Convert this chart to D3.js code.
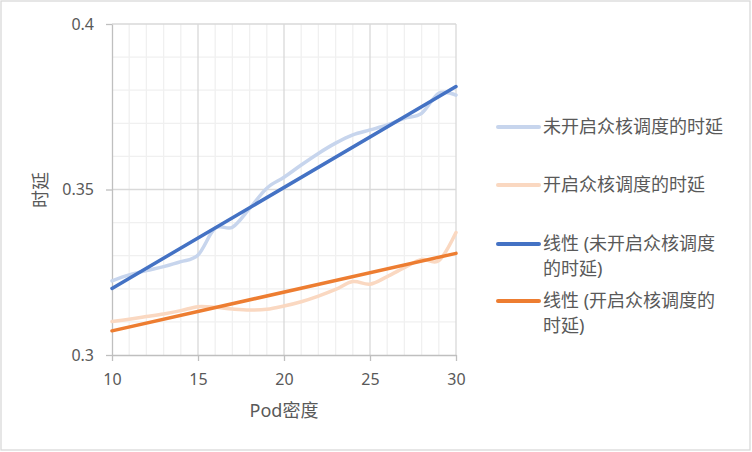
<!DOCTYPE html>
<html>
<head>
<meta charset="utf-8">
<script src="https://cdn.jsdelivr.net/npm/d3@7"></script>
<style>
  body { margin: 0; background: #fff; }
  text { font-family: "Noto Sans", "Noto Sans CJK SC", sans-serif; fill: #595959; }
</style>
</head>
<body>
<div class="chart"></div>
<script>
// x values (Pod density)
const podDensity = [10, 11, 12, 13, 14, 15, 16, 17, 18, 19, 20, 21, 22, 23, 24, 25, 26, 27, 28, 29, 30];
// latency without many-core scheduling
const latencyOff = [0.3224, 0.3242, 0.3255, 0.3267, 0.3282, 0.3302, 0.3383, 0.3386, 0.3443, 0.3504, 0.3537,
  0.3574, 0.3609, 0.3640, 0.3665, 0.3680, 0.3695, 0.3715, 0.3730, 0.3791, 0.3785];
// latency with many-core scheduling
const latencyOn = [0.3101, 0.3108, 0.3116, 0.3124, 0.3134, 0.3146, 0.3144, 0.3139, 0.3136, 0.3138, 0.3148,
  0.3161, 0.3178, 0.3198, 0.3222, 0.3214, 0.3237, 0.3264, 0.3289, 0.3285, 0.3370];
// linear trendlines, read at the ends
const trendX = [10, 30];
const trendOff = [0.3201, 0.3811];
const trendOn = [0.3073, 0.3307];

const xTicks = [10, 15, 20, 25, 30];
const yTicks = [0.3, 0.35, 0.4];
const seriesNames = ["未开启众核调度的时延", "开启众核调度的时延", "线性 (未开启众核调度的时延)", "线性 (开启众核调度的时延)"];

const svg = d3.select(".chart")
  .append("svg")
    .attr("width", 752)
    .attr("height", 452);

// chart border
svg.append("rect")
  .attr("x", 1).attr("y", 1)
  .attr("width", 749).attr("height", 449)
  .style("fill", "#fff")
  .style("stroke", "#d9d9d9")
  .style("stroke-width", 1.3);

const xScale = d3.scaleLinear().domain([10, 30]).range([112, 456]);
const yScale = d3.scaleLinear().domain([0.3, 0.4]).range([355, 24]);

//minor gridlines
const grid = svg.append("g");
grid.selectAll(".vminor")
  .data(d3.range(10, 31, 1).filter(v => v % 5 !== 0))
  .enter().append("line")
  .attr("x1", d => xScale(d)).attr("x2", d => xScale(d))
  .attr("y1", yScale(0.3)).attr("y2", yScale(0.4))
  .style("stroke", "#f0f0f0").style("stroke-width", 1.3);
grid.selectAll(".hminor")
  .data(d3.range(31, 40).map(v => v / 100).filter((v, i) => i !== 4))
  .enter().append("line")
  .attr("x1", xScale(10)).attr("x2", xScale(30))
  .attr("y1", d => yScale(d)).attr("y2", d => yScale(d))
  .style("stroke", "#f0f0f0").style("stroke-width", 1.3);
//major gridlines
grid.selectAll(".vmajor")
  .data(xTicks.slice(1))
  .enter().append("line")
  .attr("x1", d => xScale(d)).attr("x2", d => xScale(d))
  .attr("y1", yScale(0.3)).attr("y2", yScale(0.4))
  .style("stroke", "#d9d9d9").style("stroke-width", 1.3);
grid.selectAll(".hmajor")
  .data(yTicks.slice(1))
  .enter().append("line")
  .attr("x1", xScale(10)).attr("x2", xScale(30))
  .attr("y1", d => yScale(d)).attr("y2", d => yScale(d))
  .style("stroke", "#d9d9d9").style("stroke-width", 1.3);

//axes
const xAxis = svg.append("g")
  .attr("transform", `translate(0,${yScale(0.3)})`)
  .call(d3.axisBottom(xScale).tickValues(xTicks).tickSize(6).tickPadding(13).tickSizeOuter(0));
const yAxis = svg.append("g")
  .attr("transform", `translate(${xScale(10)},0)`)
  .call(d3.axisLeft(yScale).tickValues(yTicks).tickFormat(d3.format("")).tickSize(6).tickPadding(12).tickSizeOuter(0));
[xAxis, yAxis].forEach(a => {
  a.selectAll("line, path").style("stroke", "#bfbfbf").style("stroke-width", 1.3);
  a.selectAll("text")
    .style("font-family", "\"Noto Sans\", sans-serif")
    .style("font-size", "16px")
    .style("fill", "#595959");
});

//axis titles
svg.append("text")
  .attr("x", 284).attr("y", 417)
  .attr("text-anchor", "middle")
  .style("font-size", "18px")
  .text("Pod密度");
svg.append("text")
  .attr("transform", "translate(47,190) rotate(-90)")
  .attr("text-anchor", "middle")
  .style("font-size", "18px")
  .text("时延");

//lines
const smoothLine = d3.line()
  .curve(d3.curveCardinal.tension(0))
  .x(d => xScale(d[0]))
  .y(d => yScale(d[1]));
const straightLine = d3.line()
  .x(d => xScale(d[0]))
  .y(d => yScale(d[1]));

const series = [
  { values: latencyOff, xs: podDensity, color: "#c7d5ed", gen: smoothLine },
  { values: latencyOn, xs: podDensity, color: "#fad8c1", gen: smoothLine },
  { values: trendOff, xs: trendX, color: "#4472c4", gen: straightLine },
  { values: trendOn, xs: trendX, color: "#ed7d31", gen: straightLine }
];

svg.append("g").selectAll("path")
  .data(series)
  .enter().append("path")
  .attr("d", s => s.gen(s.xs.map((x, i) => [x, s.values[i]])))
  .style("fill", "none")
  .style("stroke", s => s.color)
  .style("stroke-width", 3.5)
  .style("stroke-linecap", "round");

//legend
const legendRows = [
  { lines: [seriesNames[0]], y: 127 },
  { lines: [seriesNames[1]], y: 185 },
  { lines: ["线性 (未开启众核调度", "的时延)"], y: 244 },
  { lines: ["线性 (开启众核调度的", "时延)"], y: 301 }
];
const legend = svg.append("g");
legendRows.forEach((row, i) => {
  legend.append("line")
    .attr("x1", 498).attr("x2", 539)
    .attr("y1", row.y).attr("y2", row.y)
    .style("stroke", series[i].color)
    .style("stroke-width", 4)
    .style("stroke-linecap", "round");
  const t = legend.append("text")
    .attr("x", 543).attr("y", row.y + 6)
    .style("font-size", "18px");
  row.lines.forEach((l, j) => {
    t.append("tspan")
      .attr("x", 543)
      .attr("dy", j === 0 ? 0 : 25)
      .text(l);
  });
});
</script>
</body>
</html>
